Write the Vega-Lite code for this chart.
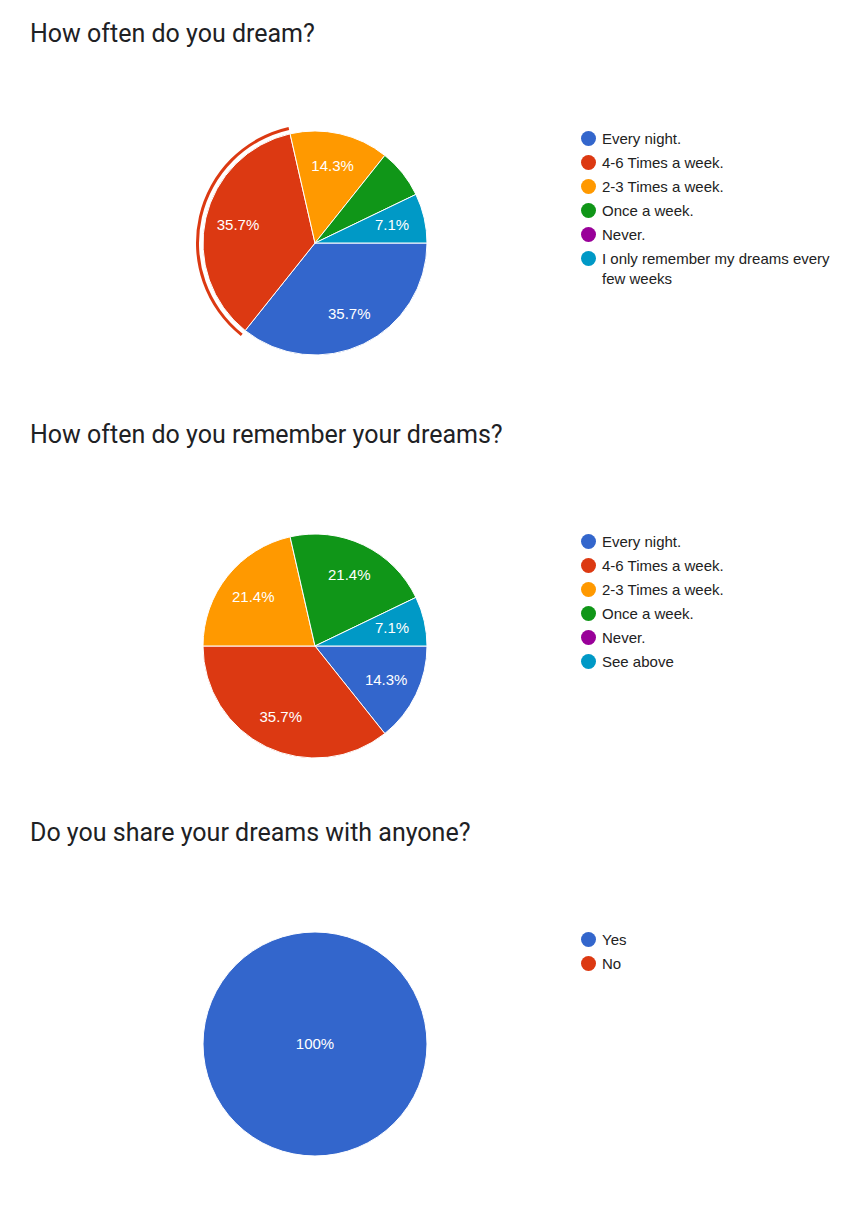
{
  "$schema": "https://vega.github.io/schema/vega-lite/v6.json",
  "background": "white",
  "padding": {"left": 30, "top": 22, "right": 0, "bottom": 0},
  "data": {
    "values": [
      {"q": "dream", "i": 1, "answer": "Every night.", "count": 5, "label": "35.7%"},
      {"q": "dream", "i": 2, "answer": "4-6 Times a week.", "count": 5, "label": "35.7%"},
      {"q": "dream", "i": 3, "answer": "2-3 Times a week.", "count": 2, "label": "14.3%"},
      {"q": "dream", "i": 4, "answer": "Once a week.", "count": 1, "label": "7.1%"},
      {"q": "dream", "i": 5, "answer": "Never.", "count": 0, "label": "0%"},
      {"q": "dream", "i": 6, "answer": "I only remember my dreams every few weeks", "count": 1, "label": "7.1%"},
      {"q": "remember", "i": 1, "answer": "Every night.", "count": 2, "label": "14.3%"},
      {"q": "remember", "i": 2, "answer": "4-6 Times a week.", "count": 5, "label": "35.7%"},
      {"q": "remember", "i": 3, "answer": "2-3 Times a week.", "count": 3, "label": "21.4%"},
      {"q": "remember", "i": 4, "answer": "Once a week.", "count": 3, "label": "21.4%"},
      {"q": "remember", "i": 5, "answer": "Never.", "count": 0, "label": "0%"},
      {"q": "remember", "i": 6, "answer": "See above", "count": 1, "label": "7.1%"},
      {"q": "share", "i": 1, "answer": "Yes", "count": 14, "label": "100%"},
      {"q": "share", "i": 2, "answer": "No", "count": 0, "label": "0%"}
    ]
  },
  "spacing": 61,
  "resolve": {
    "scale": {"color": "independent", "theta": "independent"},
    "legend": {"color": "independent"}
  },
  "vconcat": [
    {
      "title": {"text": "How often do you dream?", "offset": 77},
      "width": 224,
      "height": 224,
      "transform": [{"filter": "datum.q == 'dream' && datum.count > 0"}],
      "layer": [
        {
          "mark": {"type": "arc", "radius": 119, "radius2": 116},
          "encoding": {
            "theta": {"field": "count", "type": "quantitative", "stack": true, "scale": {"range": [1.5708, 7.854]}},
            "order": {"field": "i"},
            "fill": {
              "condition": {"test": "datum.answer == '4-6 Times a week.'", "value": "#DC3912"},
              "value": "transparent"
            }
          }
        },
        {
          "mark": {"type": "arc", "radius": 112, "stroke": "white", "strokeWidth": 1},
          "encoding": {
            "theta": {"field": "count", "type": "quantitative", "stack": true, "scale": {"range": [1.5708, 7.854]}},
            "order": {"field": "i"},
            "color": {
              "field": "answer",
              "type": "nominal",
              "scale": {
                "domain": ["Every night.", "4-6 Times a week.", "2-3 Times a week.", "Once a week.", "Never.", "I only remember my dreams every few weeks"],
                "range": ["#3366CC", "#DC3912", "#FF9900", "#109618", "#990099", "#0099C6"]
              },
              "legend": {
                "labelExpr": "datum.label == 'I only remember my dreams every few weeks' ? ['I only remember my dreams every', 'few weeks'] : datum.label"
              }
            }
          }
        },
        {
          "mark": {"type": "text", "radius": 79, "fill": "white", "fontSize": 15, "font": "Liberation Sans"},
          "encoding": {
            "theta": {"field": "count", "type": "quantitative", "stack": true, "scale": {"range": [1.5708, 7.854]}},
            "order": {"field": "i"},
            "text": {
              "condition": {"test": "datum.answer == 'Once a week.'", "value": ""},
              "field": "label",
              "type": "nominal"
            }
          }
        }
      ]
    },
    {
      "title": {"text": "How often do you remember your dreams?"},
      "width": 224,
      "height": 224,
      "transform": [{"filter": "datum.q == 'remember' && datum.count > 0"}],
      "layer": [
        {
          "mark": {"type": "arc", "radius": 112, "stroke": "white", "strokeWidth": 1},
          "encoding": {
            "theta": {"field": "count", "type": "quantitative", "stack": true, "scale": {"range": [1.5708, 7.854]}},
            "order": {"field": "i"},
            "color": {
              "field": "answer",
              "type": "nominal",
              "scale": {
                "domain": ["Every night.", "4-6 Times a week.", "2-3 Times a week.", "Once a week.", "Never.", "See above"],
                "range": ["#3366CC", "#DC3912", "#FF9900", "#109618", "#990099", "#0099C6"]
              }
            }
          }
        },
        {
          "mark": {"type": "text", "radius": 79, "fill": "white", "fontSize": 15, "font": "Liberation Sans"},
          "encoding": {
            "theta": {"field": "count", "type": "quantitative", "stack": true, "scale": {"range": [1.5708, 7.854]}},
            "order": {"field": "i"},
            "text": {"field": "label", "type": "nominal"}
          }
        }
      ]
    },
    {
      "title": {"text": "Do you share your dreams with anyone?"},
      "width": 224,
      "height": 224,
      "transform": [{"filter": "datum.q == 'share' && datum.count > 0"}],
      "layer": [
        {
          "mark": {"type": "arc", "radius": 112, "stroke": "white", "strokeWidth": 1},
          "encoding": {
            "theta": {"field": "count", "type": "quantitative", "stack": true, "scale": {"range": [1.5708, 7.854]}},
            "order": {"field": "i"},
            "color": {
              "field": "answer",
              "type": "nominal",
              "scale": {"domain": ["Yes", "No"], "range": ["#3366CC", "#DC3912"]}
            }
          }
        },
        {
          "mark": {"type": "text", "radius": 0, "fill": "white", "fontSize": 15, "font": "Liberation Sans"},
          "encoding": {
            "theta": {"field": "count", "type": "quantitative", "stack": true, "scale": {"range": [1.5708, 7.854]}},
            "order": {"field": "i"},
            "text": {"field": "label", "type": "nominal"}
          }
        }
      ]
    }
  ],
  "config": {
    "view": {"stroke": null},
    "style": {"guide-label": {"lineHeight": 20}},
    "title": {
      "font": "Roboto",
      "fontSize": 25,
      "fontWeight": "normal",
      "color": "#202124",
      "anchor": "start",
      "frame": "group",
      "dx": -173,
      "offset": 84
    },
    "legend": {
      "orient": "right",
      "offset": 154,
      "padding": 0,
      "title": null,
      "symbolType": "circle",
      "symbolSize": 225,
      "symbolStrokeWidth": 0,
      "labelFont": "Liberation Sans",
      "labelFontSize": 15,
      "labelColor": "#222222",
      "labelOffset": 6,
      "labelLimit": 400,
      "rowPadding": 8
    }
  }
}
